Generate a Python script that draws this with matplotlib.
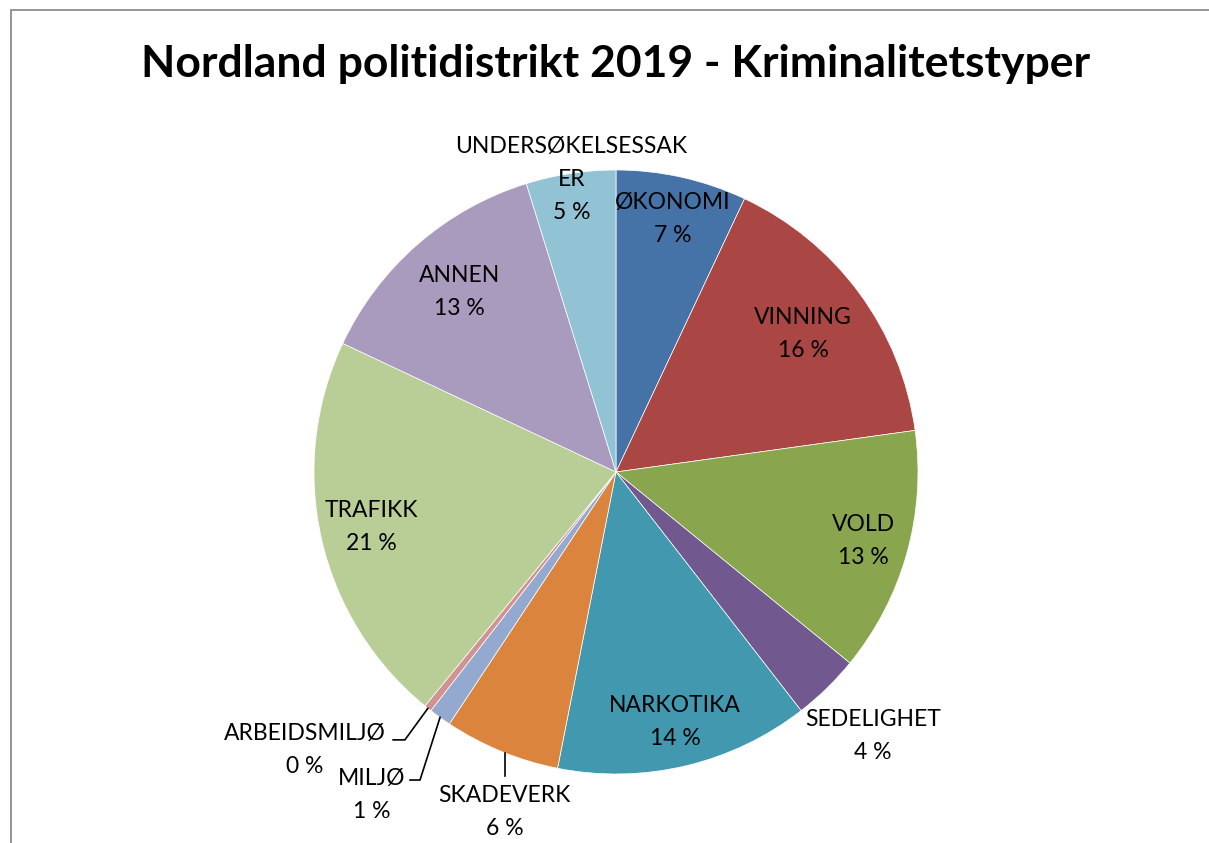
import matplotlib.pyplot as plt
import numpy as np
from matplotlib.patches import Rectangle

# data (share in percent)
categories = ["ØKONOMI", "VINNING", "VOLD", "SEDELIGHET", "NARKOTIKA", "SKADEVERK",
              "MILJØ", "ARBEIDSMILJØ", "TRAFIKK", "ANNEN", "UNDERSØKELSESSAKER"]
shares = [7.0, 15.8, 13.1, 3.6, 13.6, 6.2, 1.2, 0.4, 21.1, 13.2, 4.8]
label_text = ["ØKONOMI", "VINNING", "VOLD", "SEDELIGHET", "NARKOTIKA", "SKADEVERK",
              "MILJØ", "ARBEIDSMILJØ", "TRAFIKK", "ANNEN", "UNDERSØKELSESSAK\nER"]
colors = ["#4572A7", "#AA4643", "#89A54E", "#71588F", "#4198AF", "#DB843D",
          "#93A9CF", "#D19392", "#B9CD96", "#A99BBD", "#92C3D4"]

plt.rcParams['font.family'] = ['Lato', 'DejaVu Sans']

W, H = 1209, 843
fig = plt.figure(figsize=(W / 100, H / 100), dpi=100)
# chart frame, cut off at the right and bottom like the reference
fig.patches.append(Rectangle((11 / W, -0.2), 1.5, 1.2 - 10 / H, transform=fig.transFigure,
                             fill=False, edgecolor="#8c8c8c", linewidth=1.3))

# pie centre (616, 472) px, radius 302 px
cx, cy, R = 616, 472, 302
ax = fig.add_axes([(cx - R) / W, (H - cy - R) / H, 2 * R / W, 2 * R / H])
wedges, _ = ax.pie(shares, colors=colors, startangle=90, counterclock=False,
                   wedgeprops=dict(edgecolor="white", linewidth=0.5))
ax.set_xlim(-1, 1)
ax.set_ylim(-1, 1)
ax.set_aspect("equal")
ax.axis("off")

fs = 16.5
step = 33 / R  # distance between label lines, in axes data units


def put_label(x, y, lines):
    # one text per line, block centred on (x, y)
    n = len(lines)
    for k, line in enumerate(lines):
        ax.text(x, y + ((n - 1) / 2 - k) * step, line, ha="center", va="center",
                fontsize=fs, clip_on=False)


total = sum(shares)
# label radius along the mid angle (None = placed with leader line)
label_r = [0.86, 0.77, 0.85, 1.22, 0.85, None, None, None, 0.83, 0.79, 0.98]
for i, w in enumerate(wedges):
    mid = np.deg2rad((w.theta1 + w.theta2) / 2)
    lines = label_text[i].split("\n") + [f"{shares[i] / total * 100:.0f} %"]
    r = label_r[i]
    if r is not None:
        put_label(r * np.cos(mid), r * np.sin(mid), lines)
    else:
        ex, ey = np.cos(mid), np.sin(mid)
        if categories[i] == "SKADEVERK":
            x0 = -0.368
            ax.plot([x0, x0], [-0.93, -1.007], color="black", lw=1.2, clip_on=False)
            put_label(x0, -1.126, lines)
        elif categories[i] == "MILJØ":
            ax.plot([ex, -0.649, -0.682], [ey, -1.02, -1.02], color="black", lw=1.2,
                    clip_on=False)
            put_label(-0.808, -1.07, lines)
        else:
            ax.plot([ex, -0.699, -0.738], [ey, -0.887, -0.887], color="black", lw=1.2,
                    clip_on=False)
            put_label(-1.03, -0.921, lines)

fig.text(616 / W, 1 - 64 / H, "Nordland politidistrikt 2019 - Kriminalitetstyper",
         ha="center", va="center", fontsize=32, fontweight="bold")

fig.savefig("out.png", dpi=100)
